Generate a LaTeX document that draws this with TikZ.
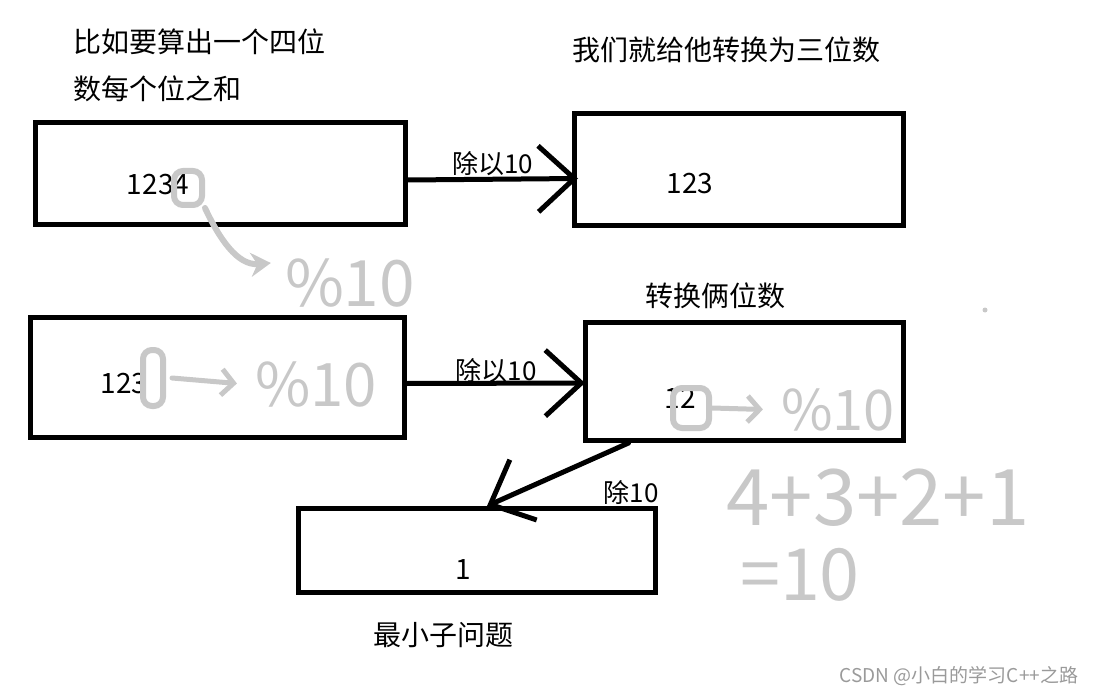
\documentclass[tikz,border=0pt]{standalone}
\usepackage{fontspec}
\setmainfont{Noto Sans CJK SC}
\usetikzlibrary{arrows.meta}
\definecolor{inkc}{HTML}{000000}
\definecolor{penc}{HTML}{C8C8C8}
\definecolor{markc}{HTML}{9A9A9A}

\tikzset{
  box/.style={draw=inkc, line width=5pt, inner sep=0pt},
  num/.style={font=\fontsize{28}{30}\selectfont, inner sep=0pt},
  title/.style={font=\fontsize{28}{30}\selectfont, inner sep=0pt},
  lbl/.style={font=\fontsize{26}{28}\selectfont, inner sep=1pt},
  link/.style={draw=inkc, line width=5pt, line cap=round, -{Straight Barb[length=36pt, width=66pt]}},
  ring/.style={draw=penc, line width=6pt, rounded corners=9pt, inner sep=0pt},
  pentext/.style={text=penc, inner sep=0pt},
  penlink/.style={draw=penc, line width=6pt, line cap=round, -{Stealth[length=20pt, width=24pt]}},
  penbarb/.style={draw=penc, line width=5pt, line cap=round, shorten >=18pt, -{Straight Barb[length=12pt, width=26pt]}},
  wmark/.style={text=markc, font=\fontsize{19}{20}\selectfont, inner sep=0pt}
}

\begin{document}
\begin{tikzpicture}[x=1pt, y=-1pt]
  \useasboundingbox (0,0) rectangle (1098,695);

  % Boxes
  \foreach \name/\x/\y/\w/\h in {
    b1234/220/174/370/102,
    b123/739/169.5/329/112,
    c123/217.5/377.5/374/120,
    b12/744.5/381.5/318/118,
    b1/477/550.5/357/84
  } {
    \node[box, minimum width=\w pt, minimum height=\h pt] (\name) at (\x,\y) {};
  }

  % Numbers inside the boxes
  \foreach \name/\x/\y/\val in {
    n1234/158/185/1234,
    n123/690/184/123,
    m123/124/384/123,
    n12/680/398/12,
    n1/463/570/1
  } {
    \node[num] (\name) at (\x,\y) {\val};
  }

  % Captions
  \node[title, anchor=west] (t1) at (73,42) {比如要算出一个四位};
  \node[title, anchor=west] (t2) at (73,89) {数每个位之和};
  \node[title] (t3) at (726,50) {我们就给他转换为三位数};
  \node[title] (t4) at (715,296) {转换俩位数};
  \node[title] (t5) at (443,635) {最小子问题};

  % Division steps
  \draw[link] ([yshift=-6pt]b1234.east) -- ([xshift=6pt, yshift=-9pt]b123.west)
    node[lbl, midway, above] (l1) {除以10};
  \draw[link] ([yshift=-6pt]c123.east) -- ([xshift=2pt, yshift=-1.5pt]b12.west)
    node[lbl, midway, above, yshift=-3pt] (l2) {除以10};
  \draw[link] ([xshift=-116pt]b12.south) -- ([xshift=10pt]b1.north);
  \node[lbl] (l3) at (631,493) {除10};

  % Pencil notes: take the last digit with %10
  \node[ring, minimum width=28pt, minimum height=34pt] (r4) at (188,188) {};
  \node[pentext, font=\fontsize{64}{64}\selectfont] (p1) at (350,283) {\%10};
  \draw[penlink] (r4.south east) to[out=-65, in=185] ([xshift=-14pt, yshift=20pt]p1.west);

  \node[ring, minimum width=20pt, minimum height=56pt] (r3) at (153,378) {};
  \node[pentext, font=\fontsize{60}{60}\selectfont] (p2) at (316,385) {\%10};
  \draw[penbarb] ([xshift=6pt]r3.east) -- (p2.west);

  \node[ring, minimum width=36pt, minimum height=40pt] (r2) at (691,408) {};
  \node[pentext, font=\fontsize{56}{56}\selectfont] (p3) at (838,410) {\%10};
  \draw[penbarb] (r2.east) -- (p3.west);

  % Sum of the digits
  \node[pentext, font=\fontsize{78}{78}\selectfont, text height=56pt, text depth=0pt] (s1) at (878,497) {4+3+2+1};
  \node[pentext, font=\fontsize{72}{72}\selectfont, text height=52pt, text depth=0pt] (s2) at (800,574) {=10};
  \fill[penc] (985,310) circle (2.5pt);

  \node[wmark] (wm) at (959,676) {CSDN @小白的学习C++之路};
\end{tikzpicture}
\end{document}
